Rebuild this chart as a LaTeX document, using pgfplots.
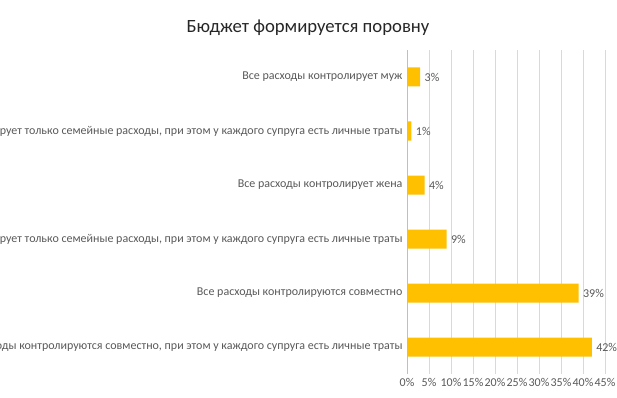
\documentclass[border=0pt]{standalone}
\usepackage{pgfplots}
\pgfplotsset{compat=1.18}
\usepackage{fontspec}
\setmainfont{Carlito}
\definecolor{barc}{HTML}{FFC000}
\definecolor{lbl}{HTML}{595959}
\definecolor{grd}{HTML}{D9D9D9}
\definecolor{axl}{HTML}{BFBFBF}
\begin{document}
\begin{tikzpicture}[x=1bp,y=1bp]
\path[use as bounding box] (0,0) rectangle (617,397);
\clip (0,0) rectangle (617,397);
\node[font=\fontsize{18.7bp}{22bp}\selectfont, text=black!85] at (308,369) {Бюджет формируется поровну};
\begin{axis}[
  at={(407bp,23bp)}, anchor=south west,
  scale only axis, width=198bp, height=324bp,
  xbar, bar width=19bp,
  xmin=0, xmax=45, ymin=-0.5, ymax=5.5,
  xtick={0,5,...,45},
  xticklabel={\pgfmathprintnumber{\tick}\%},
  ytick={0,1,2,3,4,5},
  yticklabels={
    {Все расходы контролируются совместно, при этом у каждого супруга есть личные траты},
    {Все расходы контролируются совместно},
    {Жена контролирует только семейные расходы, при этом у каждого супруга есть личные траты},
    {Все расходы контролирует жена},
    {Муж контролирует только семейные расходы, при этом у каждого супруга есть личные траты},
    {Все расходы контролирует муж}},
  major tick length=0pt,
  xmajorgrids, grid style={grd, line width=0.8bp},
  axis lines*=left,
  x axis line style={draw=none},
  y axis line style={draw=axl, line width=0.8bp},
  tick label style={font=\fontsize{12bp}{14bp}\selectfont, text=lbl},
  xticklabel style={yshift=-1bp},
  yticklabel style={xshift=-1bp},
  /pgf/number format/assume math mode=true,
  nodes near coords={\pgfmathprintnumber{\pgfplotspointmeta}\%},
  nodes near coords style={font=\fontsize{12bp}{14bp}\selectfont, text=lbl, anchor=west, xshift=1bp},
  point meta=x,
  clip=false,
]
\addplot[fill=barc, draw=none] coordinates {(42,0) (39,1) (9,2) (4,3) (1,4) (3,5)};
\end{axis}
\end{tikzpicture}
\end{document}
